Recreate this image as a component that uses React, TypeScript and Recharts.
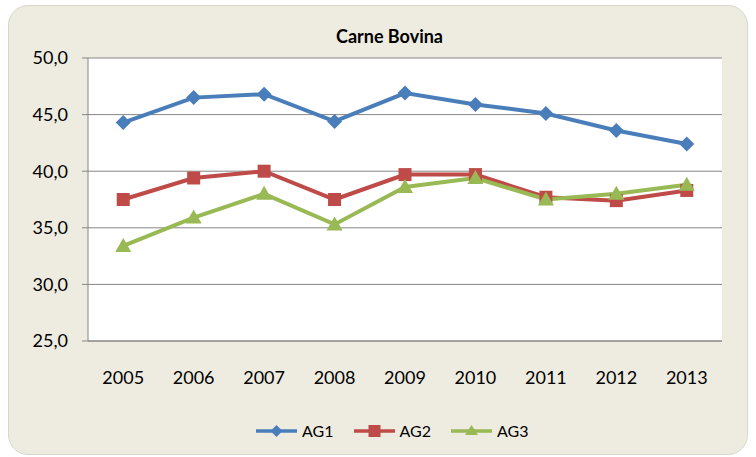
import React from "react";
import { LineChart, Line, XAxis, YAxis, CartesianGrid } from "recharts";

const years = ["2005", "2006", "2007", "2008", "2009", "2010", "2011", "2012", "2013"];
const ag1 = [44.3, 46.5, 46.8, 44.4, 46.9, 45.9, 45.1, 43.6, 42.4];
const ag2 = [37.5, 39.4, 40.0, 37.5, 39.7, 39.7, 37.7, 37.4, 38.3];
const ag3 = [33.4, 35.9, 38.0, 35.3, 38.6, 39.4, 37.5, 38.0, 38.8];
const yTicks = [25, 30, 35, 40, 45, 50];
const boundaryTicks = [0, 1, 2, 3, 4, 5, 6, 7, 8, 9];
const centerTicks = years.map((_, i) => i + 0.5);

const data = years.map((y, i) => ({ year: y, idx: i + 0.5, AG1: ag1[i], AG2: ag2[i], AG3: ag3[i] }));

const BLUE = "#4A7EBB";
const RED = "#BE4B48";
const GREEN = "#98B954";
const GRID = "#868686";
const FONT = "Lato, 'Open Sans', sans-serif";

const Diamond = (props: any) => {
  const { cx, cy } = props;
  if (cx == null || cy == null) return null;
  const r = 7.5;
  return <path d={`M${cx},${cy - r}L${cx + r},${cy}L${cx},${cy + r}L${cx - r},${cy}Z`} fill={BLUE} />;
};
const Square = (props: any) => {
  const { cx, cy } = props;
  if (cx == null || cy == null) return null;
  const r = 6.5;
  return <rect x={cx - r} y={cy - r} width={2 * r} height={2 * r} fill={RED} />;
};
const Triangle = (props: any) => {
  const { cx, cy } = props;
  if (cx == null || cy == null) return null;
  const r = 8;
  return <path d={`M${cx},${cy - r}L${cx + r},${cy + r * 0.75}L${cx - r},${cy + r * 0.75}Z`} fill={GREEN} />;
};

const legendItems = [
  { name: "AG1", color: BLUE, shape: "d" },
  { name: "AG2", color: RED, shape: "s" },
  { name: "AG3", color: GREEN, shape: "t" },
];

export default function App() {
  return (
    <div>
      <div
        style={{
          position: "absolute",
          left: 8,
          top: 5,
          width: 740,
          height: 450,
          boxSizing: "border-box",
          background: "#EEECE1",
          border: "1px solid #D9D7CC",
          borderRadius: 20,
        }}
      />
      <div
        style={{
          position: "absolute",
          left: 8,
          top: 26,
          width: 763,
          textAlign: "center",
          fontFamily: FONT,
          fontWeight: 700,
          fontSize: 18,
          lineHeight: "20px",
          color: "#000",
        }}
      >
        Carne Bovina
      </div>
      <div style={{ position: "absolute", left: 8, top: 5 }}>
        <LineChart width={740} height={450} data={data} margin={{ top: 53, right: 26, bottom: 74, left: 0 }}>
          <CartesianGrid vertical={false} stroke={GRID} fill="#FFFFFF" strokeWidth={1} xAxisId="b" />
          <XAxis
            dataKey="idx"
            xAxisId="b"
            type="number"
            domain={[0, 9]}
            ticks={boundaryTicks}
            tick={false}
            tickSize={6}
            tickLine={{ stroke: GRID }}
            axisLine={{ stroke: GRID }}
            height={1}
            allowDataOverflow
          />
          <XAxis
            dataKey="idx"
            xAxisId="lab"
            type="number"
            domain={[0, 9]}
            ticks={centerTicks}
            tickFormatter={(v: number) => years[Math.floor(v)]}
            tick={{ fontFamily: FONT, fontSize: 18, fill: "#000" }}
            tickLine={false}
            axisLine={false}
            tickMargin={23}
            height={39}
            interval={0}
          />
          <YAxis
            domain={[25, 50]}
            ticks={yTicks}
            tickFormatter={(v: number) => v.toFixed(1).replace(".", ",")}
            tick={{ fontFamily: FONT, fontSize: 18, fill: "#000" }}
            tickLine={{ stroke: GRID }}
            tickSize={6}
            tickMargin={14}
            axisLine={{ stroke: GRID }}
            width={80}
            interval={0}
          />
          <Line xAxisId="b" dataKey="AG1" stroke={BLUE} strokeWidth={4} dot={<Diamond />} activeDot={false} isAnimationActive={false} />
          <Line xAxisId="b" dataKey="AG2" stroke={RED} strokeWidth={4} dot={<Square />} activeDot={false} isAnimationActive={false} />
          <Line xAxisId="b" dataKey="AG3" stroke={GREEN} strokeWidth={4} dot={<Triangle />} activeDot={false} isAnimationActive={false} />
        </LineChart>
      </div>
      <div
        style={{
          position: "absolute",
          left: 256,
          top: 421,
          display: "flex",
          alignItems: "center",
          fontFamily: FONT,
          fontSize: 16,
          lineHeight: "20px",
          color: "#000",
        }}
      >
        {legendItems.map((it, i) => (
          <div key={it.name} style={{ display: "flex", alignItems: "center", marginRight: i < 2 ? 20 : 0 }}>
            <svg width={41} height={14} style={{ marginRight: 5 }}>
              <line x1={0} y1={7} x2={41} y2={7} stroke={it.color} strokeWidth={3.5} />
              {it.shape === "d" && <path d="M20.5,1L26.5,7L20.5,13L14.5,7Z" fill={it.color} />}
              {it.shape === "s" && <rect x={14.5} y={1} width={12} height={12} fill={it.color} />}
              {it.shape === "t" && <path d="M20.5,1L27,11L14,11Z" fill={it.color} />}
            </svg>
            <span>{it.name}</span>
          </div>
        ))}
      </div>
    </div>
  );
}
